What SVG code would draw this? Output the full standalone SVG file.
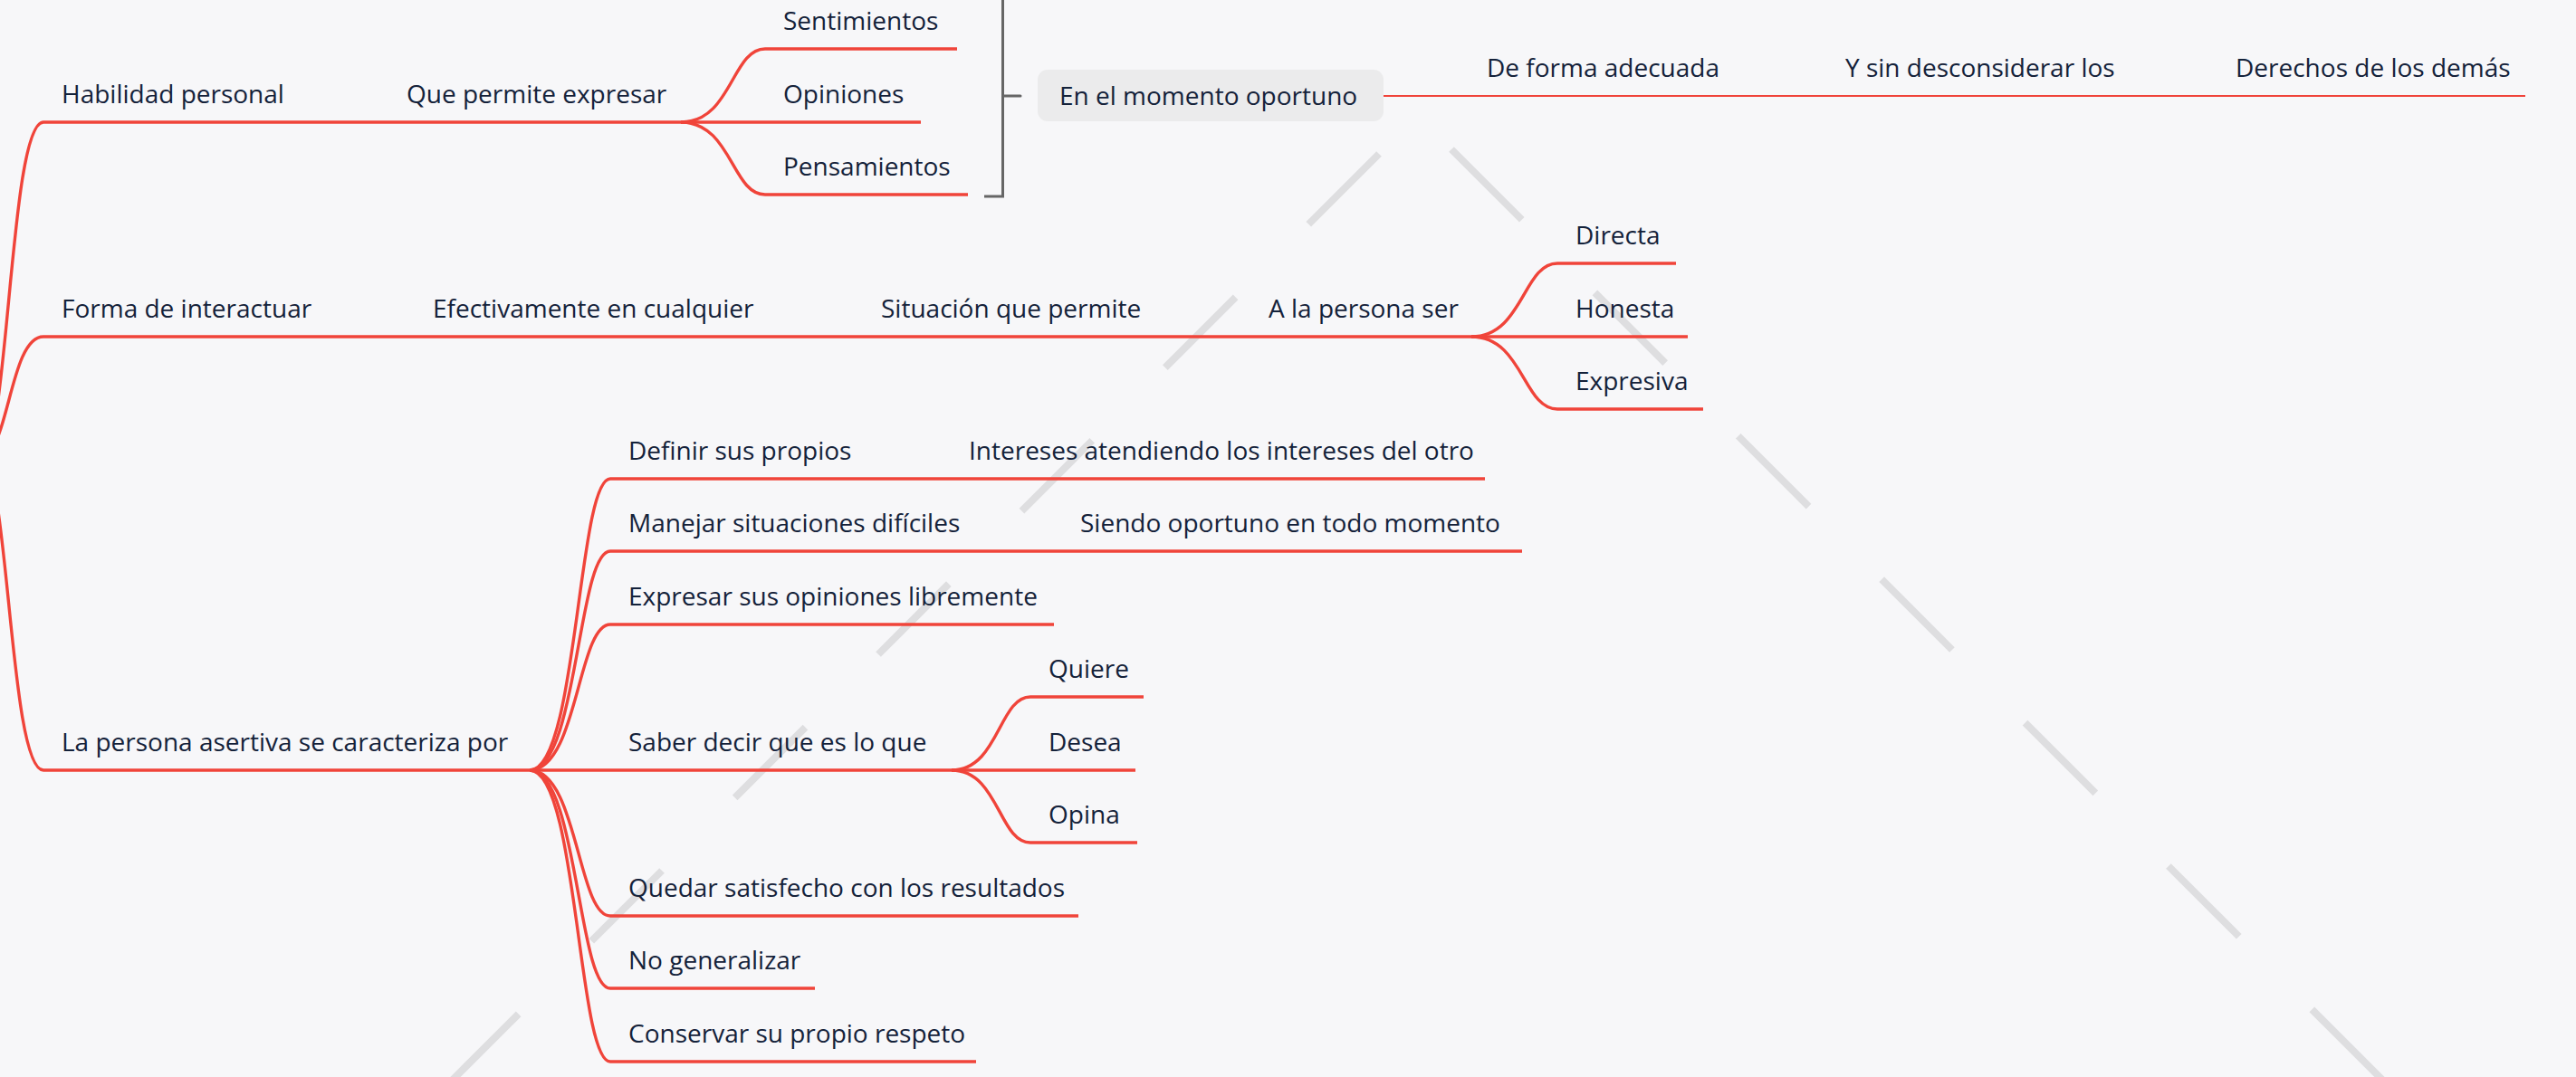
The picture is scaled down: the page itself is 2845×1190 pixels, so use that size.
<svg xmlns="http://www.w3.org/2000/svg" width="2845" height="1190" viewBox="0 0 2845 1190">
  <style>
    .t { font-family: "Open Sans", "Liberation Sans", sans-serif; font-size: 28px; fill: #14223A; }
    .ln { stroke: #F0443A; stroke-width: 3.4; fill: none; stroke-linecap: butt; }
    .thin { stroke: #F0443A; stroke-width: 2; fill: none; }
    .dash { stroke: #DEDEE0; stroke-width: 8; fill: none; stroke-dasharray: 110 114; }
    .brk { stroke: #666666; stroke-width: 3; fill: none; }
  </style>
  <rect width="2845" height="1190" fill="#F7F7F9"/>
  <g id="decoration">
    <path class="dash" d="M1523,170 L470,1223"/>
    <path class="dash" d="M1603,165 L2660,1222"/>
  </g>
  <g id="connectors">
    <path class="ln" d="M-22,505 C10,505 10,135 48,135"/>
    <path class="ln" d="M-22,505 C10,505 10,372 48,372"/>
    <path class="ln" d="M-22,505 C10,505 10,851 48,851"/>
    <path class="ln" d="M335,135 H429"/>
    <path class="ln" d="M752,135 C808,135 808,54 845,54"/>
    <path class="ln" d="M752,135 H845"/>
    <path class="ln" d="M752,135 C808,135 808,215 845,215"/>
    <path class="thin" d="M1528,106 H1622"/>
    <path class="thin" d="M1918,106 H2018"/>
    <path class="thin" d="M2350,106 H2449"/>
    <path class="ln" d="M362,372 H458"/>
    <path class="ln" d="M857,372 H953"/>
    <path class="ln" d="M1285,372 H1381"/>
    <path class="ln" d="M1625,372 C1682,372 1682,291 1720,291"/>
    <path class="ln" d="M1625,372 H1720"/>
    <path class="ln" d="M1625,372 C1682,372 1682,452 1720,452"/>
    <path class="ln" d="M585,851 C638,851 638,529 674,529"/>
    <path class="ln" d="M585,851 C638,851 638,609 674,609"/>
    <path class="ln" d="M585,851 C638,851 638,690 674,690"/>
    <path class="ln" d="M585,851 H674"/>
    <path class="ln" d="M585,851 C638,851 638,1012 674,1012"/>
    <path class="ln" d="M585,851 C638,851 638,1092 674,1092"/>
    <path class="ln" d="M585,851 C638,851 638,1173 674,1173"/>
    <path class="ln" d="M954,529 H1050"/>
    <path class="ln" d="M1078,609 H1173"/>
    <path class="ln" d="M1051,851 C1103,851 1103,770 1138,770"/>
    <path class="ln" d="M1051,851 H1138"/>
    <path class="ln" d="M1051,851 C1103,851 1103,931 1138,931"/>
  </g>
  <g id="n-habilidad"><path class="ln" d="M48,135 H335"/><text class="t" x="68" y="114">Habilidad personal</text></g>
  <g id="n-que-permite"><path class="ln" d="M429,135 H752"/><text class="t" x="449" y="114">Que permite expresar</text></g>
  <g id="n-sentimientos"><path class="ln" d="M845,54 H1057"/><text class="t" x="865" y="33">Sentimientos</text></g>
  <g id="n-opiniones"><path class="ln" d="M845,135 H1017"/><text class="t" x="865" y="114">Opiniones</text></g>
  <g id="n-pensamientos"><path class="ln" d="M845,215 H1069"/><text class="t" x="865" y="194">Pensamientos</text></g>
  <g id="summary-bracket"><path class="brk" d="M1087,217 H1107.5 V-5 H1087"/><path class="brk" d="M1107.5,106 H1127" stroke-linecap="round"/></g>
  <g id="n-momento"><rect x="1146" y="77" width="382" height="57" rx="11" fill="#EBEBEC"/><text class="t" x="1170" y="116">En el momento oportuno</text></g>
  <g id="n-de-forma"><path class="thin" d="M1622,106 H1918"/><text class="t" x="1642" y="85">De forma adecuada</text></g>
  <g id="n-y-sin"><path class="thin" d="M2018,106 H2350"/><text class="t" x="2038" y="85">Y sin desconsiderar los</text></g>
  <g id="n-derechos"><path class="thin" d="M2449,106 H2789"/><text class="t" x="2469" y="85">Derechos de los demás</text></g>
  <g id="n-forma"><path class="ln" d="M48,372 H362"/><text class="t" x="68" y="351">Forma de interactuar</text></g>
  <g id="n-efectivamente"><path class="ln" d="M458,372 H857"/><text class="t" x="478" y="351">Efectivamente en cualquier</text></g>
  <g id="n-situacion"><path class="ln" d="M953,372 H1285"/><text class="t" x="973" y="351">Situación que permite</text></g>
  <g id="n-ala-persona"><path class="ln" d="M1381,372 H1625"/><text class="t" x="1401" y="351">A la persona ser</text></g>
  <g id="n-directa"><path class="ln" d="M1720,291 H1851"/><text class="t" x="1740" y="270">Directa</text></g>
  <g id="n-honesta"><path class="ln" d="M1720,372 H1864"/><text class="t" x="1740" y="351">Honesta</text></g>
  <g id="n-expresiva"><path class="ln" d="M1720,452 H1881"/><text class="t" x="1740" y="431">Expresiva</text></g>
  <g id="n-persona"><path class="ln" d="M48,851 H585"/><text class="t" x="68" y="830">La persona asertiva se caracteriza por</text></g>
  <g id="n-definir"><path class="ln" d="M674,529 H954"/><text class="t" x="694" y="508">Definir sus propios</text></g>
  <g id="n-intereses"><path class="ln" d="M1050,529 H1640"/><text class="t" x="1070" y="508">Intereses atendiendo los intereses del otro</text></g>
  <g id="n-manejar"><path class="ln" d="M674,609 H1078"/><text class="t" x="694" y="588">Manejar situaciones difíciles</text></g>
  <g id="n-siendo"><path class="ln" d="M1173,609 H1681"/><text class="t" x="1193" y="588">Siendo oportuno en todo momento</text></g>
  <g id="n-expresar"><path class="ln" d="M674,690 H1164"/><text class="t" x="694" y="669">Expresar sus opiniones libremente</text></g>
  <g id="n-saber"><path class="ln" d="M674,851 H1051"/><text class="t" x="694" y="830">Saber decir que es lo que</text></g>
  <g id="n-quiere"><path class="ln" d="M1138,770 H1263"/><text class="t" x="1158" y="749">Quiere</text></g>
  <g id="n-desea"><path class="ln" d="M1138,851 H1254"/><text class="t" x="1158" y="830">Desea</text></g>
  <g id="n-opina"><path class="ln" d="M1138,931 H1256"/><text class="t" x="1158" y="910">Opina</text></g>
  <g id="n-quedar"><path class="ln" d="M674,1012 H1191"/><text class="t" x="694" y="991">Quedar satisfecho con los resultados</text></g>
  <g id="n-nogen"><path class="ln" d="M674,1092 H900"/><text class="t" x="694" y="1071">No generalizar</text></g>
  <g id="n-conservar"><path class="ln" d="M674,1173 H1078"/><text class="t" x="694" y="1152">Conservar su propio respeto</text></g>
</svg>
